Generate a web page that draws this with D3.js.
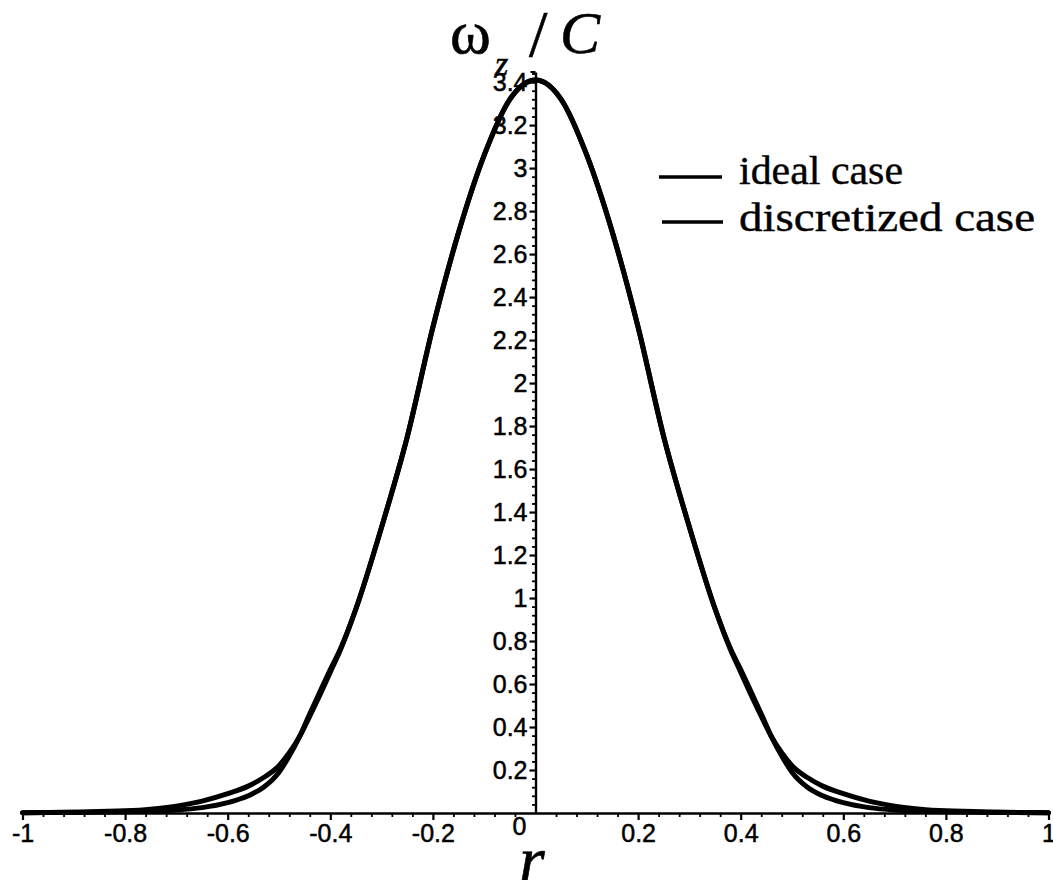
<!DOCTYPE html>
<html>
<head>
<meta charset="utf-8">
<script src="https://cdn.jsdelivr.net/npm/d3@7"></script>
<style>
  html, body { margin: 0; padding: 0; background: #fff; }
  svg { display: block; }
</style>
</head>
<body>
<svg id="chart" width="1053" height="880"></svg>
<script>
// ---- data ----
const rValues = [-1, -0.9, -0.8, -0.75, -0.7, -0.65, -0.6, -0.56, -0.53, -0.5, -0.48, -0.46, -0.44, -0.42, -0.4, -0.38, -0.35, -0.3, -0.25, -0.2, -0.15, -0.1, -0.05,
  0, 0.05, 0.1, 0.15, 0.2, 0.25, 0.3, 0.35, 0.38, 0.4, 0.42, 0.44, 0.46, 0.48, 0.5, 0.53, 0.56, 0.6, 0.65, 0.7, 0.75, 0.8, 0.9, 1];
const idealCase = [0.001, 0.004, 0.01, 0.018, 0.032, 0.055, 0.09, 0.125, 0.165, 0.22, 0.28, 0.355, 0.45, 0.55, 0.655, 0.76, 0.95, 1.33, 1.75, 2.26, 2.70, 3.06, 3.32,
  3.41, 3.32, 3.06, 2.70, 2.26, 1.75, 1.33, 0.95, 0.76, 0.655, 0.55, 0.45, 0.355, 0.28, 0.22, 0.165, 0.125, 0.09, 0.055, 0.032, 0.018, 0.01, 0.004, 0.001];
const discretizedCase = [0.001, 0.003, 0.006, 0.009, 0.014, 0.025, 0.048, 0.08, 0.12, 0.19, 0.265, 0.355, 0.462, 0.565, 0.667, 0.765, 0.95, 1.33, 1.75, 2.26, 2.70, 3.06, 3.32,
  3.41, 3.32, 3.06, 2.70, 2.26, 1.75, 1.33, 0.95, 0.765, 0.667, 0.565, 0.462, 0.355, 0.265, 0.19, 0.12, 0.08, 0.048, 0.025, 0.014, 0.009, 0.006, 0.003, 0.001];
const xTickValues = [-1, -0.8, -0.6, -0.4, -0.2, 0.2, 0.4, 0.6, 0.8, 1];
const yTickValues = [0.2, 0.4, 0.6, 0.8, 1, 1.2, 1.4, 1.6, 1.8, 2, 2.2, 2.4, 2.6, 2.8, 3, 3.2, 3.4];
const legendLabels = ["ideal case", "discretized case"];

// ---- layout ----
const svg = d3.select("#chart");
const x = d3.scaleLinear().domain([-1, 1]).range([22.5, 1048.5]);
const y = d3.scaleLinear().domain([0, 3.447]).range([813, 72]);
const x0 = x(0), y0 = y(0);

const isMajor = v => Math.abs(v * 5 - Math.round(v * 5)) < 1e-6;
const minorX = d3.range(-24, 25).map(i => i * 0.04).filter(v => !isMajor(v));
const minorY = d3.range(1, 87).map(i => i * 0.04).filter(v => !isMajor(v));

const tickFont = "'Liberation Sans Narrow', 'Liberation Sans', Arial, sans-serif";
const styleLabels = g => g.selectAll("text")
  .attr("font-family", tickFont).attr("font-size", 25).attr("fill", "#000")
  .attr("stroke", "#000").attr("stroke-width", 0.5);

// x axis minor
svg.append("g").attr("transform", `translate(0,${y0})`)
  .call(d3.axisBottom(x).tickValues(minorX).tickSize(4).tickSizeOuter(0).tickFormat(""))
  .call(g => g.select(".domain").remove())
  .call(g => g.selectAll("line").attr("stroke", "#000").attr("stroke-width", 1.8));
// x axis major
svg.append("g").attr("transform", `translate(0,${y0})`)
  .call(d3.axisBottom(x).tickValues(xTickValues).tickSize(7).tickSizeOuter(0).tickPadding(4)
    .tickFormat(d => String(+d.toFixed(2))))
  .call(g => g.select(".domain").attr("stroke", "#000").attr("stroke-width", 2.4))
  .call(g => g.selectAll("line").attr("stroke", "#000").attr("stroke-width", 2.2))
  .call(styleLabels);

// y axis minor
svg.append("g").attr("transform", `translate(${x0},0)`)
  .call(d3.axisLeft(y).tickValues(minorY).tickSize(3.5).tickSizeOuter(0).tickFormat(""))
  .call(g => g.select(".domain").remove())
  .call(g => g.selectAll("line").attr("stroke", "#000").attr("stroke-width", 1.8));
// y axis major
svg.append("g").attr("transform", `translate(${x0},0)`)
  .call(d3.axisLeft(y).tickValues(yTickValues).tickSize(6).tickSizeOuter(0).tickPadding(2)
    .tickFormat(d => String(+d.toFixed(2))))
  .call(g => g.select(".domain").attr("stroke", "#000").attr("stroke-width", 2.4))
  .call(g => g.selectAll("line").attr("stroke", "#000").attr("stroke-width", 2.2))
  .call(styleLabels);

// small tick at top of y axis
svg.append("line").attr("x1", x0 - 5).attr("x2", x0).attr("y1", y.range()[1]).attr("y2", y.range()[1])
  .attr("stroke", "#000").attr("stroke-width", 2);

// origin label
svg.append("text").attr("x", x0 - 9).attr("y", y0 + 22).attr("text-anchor", "end")
  .attr("font-family", tickFont).attr("font-size", 25).attr("stroke", "#000").attr("stroke-width", 0.5).text("0");

// ---- curves ----
const line = d3.line().x((d, i) => x(rValues[i])).y(d => y(d)).curve(d3.curveMonotoneX);
[idealCase, discretizedCase].forEach(series => {
  svg.append("path").datum(series).attr("d", line)
    .attr("fill", "none").attr("stroke", "#000").attr("stroke-width", 5)
    .attr("stroke-linejoin", "round").attr("stroke-linecap", "round");
});

// ---- title ω_z / C ----
const serif = "'Liberation Serif', 'Times New Roman', serif";
const title = svg.append("text").attr("font-family", serif).attr("fill", "#000")
  .attr("stroke", "#000").attr("stroke-width", 0.6);
title.append("tspan").attr("x", 450).attr("y", 53).attr("font-size", 62).text("ω");
title.append("tspan").attr("x", 495).attr("y", 75).attr("font-size", 34).attr("font-style", "italic").text("z");
title.append("tspan").attr("x", 529).attr("y", 56).attr("font-size", 66).text("/");
title.append("tspan").attr("x", 560).attr("y", 53).attr("font-size", 60).attr("font-style", "italic").text("C");

// x label r
svg.append("text").attr("x", 519).attr("y", 882).attr("font-family", serif).attr("font-style", "italic")
  .attr("font-size", 66).attr("stroke", "#000").attr("stroke-width", 0.6).text("r");

// ---- legend ----
const legendRows = [
  { lx1: 659, lx2: 722, ly: 177, ty: 184, w: 164 },
  { lx1: 662, lx2: 723, ly: 222, ty: 231, w: 296 }
];
legendRows.forEach((row, i) => {
  svg.append("line").attr("x1", row.lx1).attr("x2", row.lx2).attr("y1", row.ly).attr("y2", row.ly)
    .attr("stroke", "#000").attr("stroke-width", 3.5);
  svg.append("text").attr("x", 739).attr("y", row.ty).attr("font-family", serif).attr("font-size", 39)
    .attr("stroke", "#000").attr("stroke-width", 0.4)
    .attr("textLength", row.w).attr("lengthAdjust", "spacingAndGlyphs").text(legendLabels[i]);
});
</script>
</body>
</html>
